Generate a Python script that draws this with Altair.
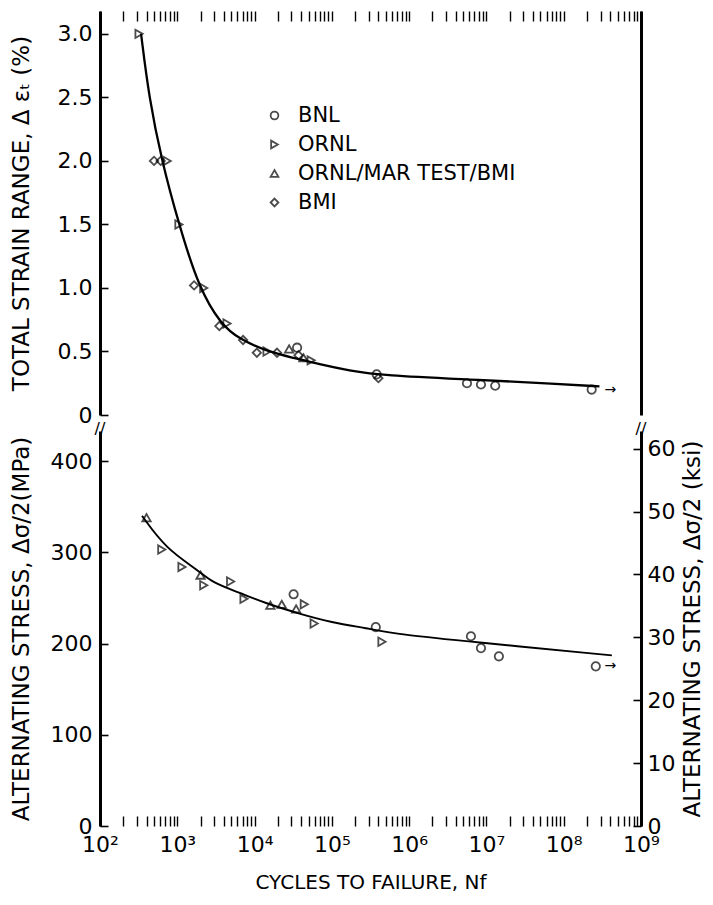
import altair as alt
import pandas as pd

FONT = "DejaVu Sans"

# ---------------- data ----------------
sources = ["BNL", "ORNL", "ORNL/MAR TEST/BMI", "BMI"]
shapes = ["circle", "triangle-right", "triangle-up", "diamond"]

# total strain range (%) test points
strain_src = ["ORNL", "BMI", "BMI", "ORNL", "ORNL", "BMI", "ORNL", "BMI", "ORNL",
              "BMI", "BMI", "ORNL", "BMI", "ORNL/MAR TEST/BMI", "BNL", "BMI",
              "ORNL/MAR TEST/BMI", "ORNL", "BNL", "BMI", "BNL", "BNL", "BNL", "BNL"]
strain_N = [320, 500, 610, 740, 1050, 1650, 2200, 3500, 4400,
            7100, 10700, 14500, 19500, 28000, 35500, 37000,
            43000, 54000, 380000, 400000, 5.6e6, 8.5e6, 1.3e7, 2.3e8]
strain_val = [3.0, 2.0, 2.0, 2.0, 1.5, 1.02, 1.0, 0.70, 0.72,
              0.59, 0.49, 0.50, 0.49, 0.52, 0.53, 0.47,
              0.45, 0.43, 0.32, 0.29, 0.25, 0.24, 0.23, 0.20]

# fitted curve, strain panel
strain_curve_N = [340, 430, 630, 1050, 1900, 3700, 6300, 14500, 32000, 68000,
                  165000, 470000, 5.9e6, 8.7e7, 2.9e8]
strain_curve_val = [3.0, 2.5, 2.0, 1.5, 1.0, 0.71, 0.60, 0.50, 0.45, 0.40,
                    0.35, 0.31, 0.28, 0.245, 0.225]

# alternating stress (MPa) test points
stress_src = ["ORNL/MAR TEST/BMI", "ORNL", "ORNL", "ORNL/MAR TEST/BMI", "ORNL", "ORNL",
              "ORNL", "ORNL/MAR TEST/BMI", "ORNL/MAR TEST/BMI", "BNL", "ORNL/MAR TEST/BMI",
              "ORNL", "ORNL", "BNL", "ORNL", "BNL", "BNL", "BNL", "BNL"]
stress_N = [400, 630, 1150, 2000, 2200, 4900,
            7300, 16000, 22500, 32000, 34500,
            44000, 59000, 370000, 445000, 6.3e6, 8.5e6, 1.45e7, 2.6e8]
stress_val = [338, 303, 284, 275, 264, 268,
              249, 242, 243, 254, 238,
              243, 222, 218, 202, 208, 195, 186, 175]

# fitted curve, stress panel
stress_curve_N = [350, 710, 1900, 2800, 6300, 14000, 37000, 100000, 275000,
                  740000, 6.3e6, 4.2e8]
stress_curve_val = [340, 304, 280, 267, 256, 244, 233, 223, 217,
                    210, 202, 187]

# run-out (did not fail) arrows
runout_N = [4.0e8]
runout_strain = [0.20]
runout_stress = [175]

# axis ticks
strain_ticks = [0, 0.5, 1.0, 1.5, 2.0, 2.5, 3.0]
mpa_ticks = [0, 100, 200, 300, 400]
ksi_ticks = [0, 10, 20, 30, 40, 50, 60]
decades = [2, 3, 4, 5, 6, 7, 8]
MPA_PER_KSI = 6.895

x_values = [m * 10.0 ** e for e in decades for m in range(1, 10)] + [1e9]

STRAIN_DOM = [0, 3.18]
MPA_DOM = [0, 433]
KSI_DOM = [0, 433 / MPA_PER_KSI]
W, H1, H2 = 541, 404, 395

LBL = 22      # tick label size
TTL = 23      # axis title size

# ---------------- frames ----------------
strain_pts = pd.DataFrame({"N": strain_N, "v": strain_val, "src": strain_src})
strain_curve = pd.DataFrame({"N": strain_curve_N, "v": strain_curve_val})
stress_pts = pd.DataFrame({"N": stress_N, "v": stress_val, "src": stress_src})
stress_pts["ksi"] = stress_pts["v"] / MPA_PER_KSI
stress_curve = pd.DataFrame({"N": stress_curve_N, "v": stress_curve_val})
run_top = pd.DataFrame({"N": runout_N, "v": runout_strain})
run_bot = pd.DataFrame({"N": runout_N, "v": runout_stress})
breaks = pd.DataFrame({"N": [100.0, 1e9], "v": [MPA_DOM[1], MPA_DOM[1]]})

xscale = alt.Scale(type="log", domain=[100, 1e9], nice=False)

sup = "['⁰','¹','²','³','⁴','⁵','⁶','⁷','⁸','⁹']"
x_label_expr = ("datum.value == pow(10, round(log(datum.value)/LN10)) ? '10' + "
                + sup + "[round(log(datum.value)/LN10)] : ''")

x_top = alt.X("N:Q", scale=xscale,
              axis=alt.Axis(orient="top", values=x_values, labels=False, domain=False,
                            tickSize=alt.ExprRef(expr="-10"), tickWidth=1.4, title=None))
x_bot = alt.X("N:Q", scale=xscale,
              axis=alt.Axis(orient="bottom", values=x_values, labelExpr=x_label_expr,
                            labelFlush=False, labelOverlap=False, domain=False,
                            tickSize=alt.ExprRef(expr="-10"), tickWidth=1.4,
                            labelPadding=18, labelFontSize=LBL,
                            title="CYCLES TO FAILURE, Nf", titleFontSize=20,
                            titlePadding=17, titleFontWeight="normal"))

def sscale(dom):
    return alt.Scale(domain=dom, nice=False, zero=False)

no_axis_strain = alt.Y("v:Q", scale=sscale(STRAIN_DOM), axis=None)

# ---------------- top panel ----------------
top_curve = alt.Chart(strain_curve).mark_line(
    color="black", strokeWidth=2.3, interpolate="basis"
).encode(
    x=x_top,
    y=alt.Y("v:Q", scale=sscale(STRAIN_DOM),
            axis=alt.Axis(orient="left", values=strain_ticks,
                          labelExpr="datum.value == 0 ? '0' : format(datum.value, '.1f')",
                          tickSize=alt.ExprRef(expr="-8"), tickWidth=1.6, labelPadding=16,
                          domainWidth=3, labelFontSize=LBL,
                          title="TOTAL STRAIN RANGE, Δ εₜ  (%)", titleFontSize=TTL,
                          titleFontWeight="normal", titlePadding=24)),
)

top_pts = alt.Chart(strain_pts).mark_point(
    filled=False, color="black", size=70, strokeWidth=1.8
).encode(
    x=x_top,
    y=alt.Y("v:Q", scale=sscale(STRAIN_DOM),
            axis=alt.Axis(orient="right", labels=False, ticks=False, domainWidth=3, title=None)),
    shape=alt.Shape("src:N", scale=alt.Scale(domain=sources, range=shapes),
                    legend=alt.Legend(title=None, orient="none", legendX=164, legendY=94,
                                      labelFontSize=21, labelFont=FONT, labelLimit=0,
                                      labelColor="black",
                                      symbolSize=60, symbolStrokeWidth=1.8,
                                      symbolStrokeColor="black", symbolFillColor="white",
                                      rowPadding=7, labelOffset=13, padding=0)),
)

top_run = alt.Chart(run_top).mark_text(
    text="→", fontSize=14, font=FONT, color="black"
).encode(x=x_top, y=no_axis_strain)

top = alt.layer(top_curve, top_pts, top_run).resolve_scale(y="independent").properties(
    width=W, height=H1)

# ---------------- bottom panel ----------------
bot_curve = alt.Chart(stress_curve).mark_line(
    color="black", strokeWidth=1.9, interpolate="basis"
).encode(
    x=x_bot,
    y=alt.Y("v:Q", scale=sscale(MPA_DOM),
            axis=alt.Axis(orient="left", values=mpa_ticks,
                          tickSize=alt.ExprRef(expr="-8"), tickWidth=1.6, labelPadding=16,
                          domainWidth=3, labelFontSize=LBL,
                          title="ALTERNATING  STRESS, Δσ/2(MPa)", titleFontSize=TTL,
                          titleFontWeight="normal", titlePadding=17)),
)

bot_pts = alt.Chart(stress_pts).mark_point(
    filled=False, color="black", size=70, strokeWidth=1.8
).encode(
    x=x_bot,
    y=alt.Y("ksi:Q", scale=sscale(KSI_DOM),
            axis=alt.Axis(orient="right", values=ksi_ticks,
                          tickSize=alt.ExprRef(expr="-8"), tickWidth=1.6, labelPadding=14,
                          domainWidth=3, labelFontSize=LBL,
                          title="ALTERNATING STRESS, Δσ/2 (ksi)", titleFontSize=TTL,
                          titleFontWeight="normal", titlePadding=7, titleAngle=270,
                          titleBaseline="top")),
    shape=alt.Shape("src:N", scale=alt.Scale(domain=sources, range=shapes), legend=None),
)

bot_run = alt.Chart(run_bot).mark_text(
    text="→", fontSize=14, font=FONT, color="black"
).encode(x=x_bot, y=alt.Y("v:Q", scale=sscale(MPA_DOM), axis=None))

bot_breaks = alt.Chart(breaks).mark_text(
    text="//", fontSize=16, font=FONT, color="black", baseline="bottom", dy=6
).encode(x=x_bot, y=alt.Y("v:Q", scale=sscale(MPA_DOM), axis=None))

bottom = alt.layer(bot_curve, bot_pts, bot_run, bot_breaks).resolve_scale(
    y="independent").properties(width=W, height=H2)

chart = alt.vconcat(top, bottom, spacing=16, bounds="flush").resolve_scale(
    shape="independent"
).properties(
    padding={"top": 2, "left": 2, "right": 0, "bottom": 0}
).configure_axis(
    grid=False, labelFont=FONT, titleFont=FONT, labelColor="black", titleColor="black",
    domainColor="black", tickColor="black"
).configure_view(stroke=None)

chart.save("out.html", embed_options={"renderer": "svg", "actions": False})
